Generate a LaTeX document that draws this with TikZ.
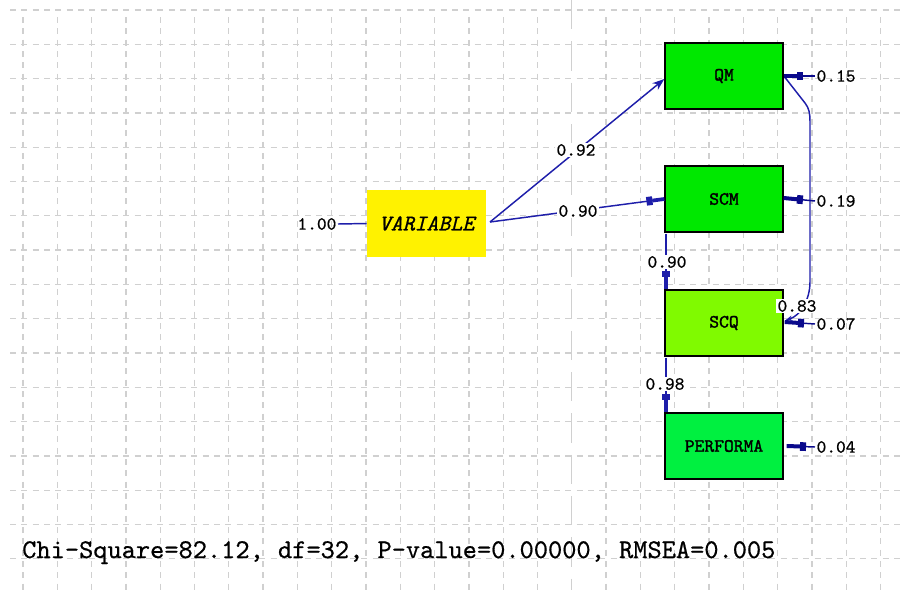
\documentclass[tikz,border=0pt]{standalone}
\usepackage{fontspec}
\usetikzlibrary{arrows.meta,calc}
\newfontfamily\numfont{lmmono10-regular}[Extension=.otf,FakeBold=0.6]
\newfontfamily\boxfont{lmmono10-regular}[Extension=.otf,FakeBold=1.6]
\newfontfamily\varfont{lmmono10-italic}[Extension=.otf,FakeBold=0.8]
\definecolor{gridc}{RGB}{208,208,208}
\definecolor{pathc}{RGB}{30,30,170}
\definecolor{errc}{RGB}{10,10,140}
\definecolor{boxgreen}{RGB}{0,232,0}
\definecolor{scqgreen}{RGB}{128,250,0}
\definecolor{perfgreen}{RGB}{0,240,64}
\begin{document}
\begin{tikzpicture}[x=0.75pt,y=-0.75pt,
  gridline/.style={draw=gridc,line width=1pt,dash pattern=on 4.5pt off 4pt},
  axisline/.style={draw=gridc,line width=1pt,dash pattern=on 22pt off 9pt},
  obs/.style={draw=black,line width=1pt,minimum width=88.5pt,minimum height=49.5pt,
    inner sep=0pt,font=\boxfont\fontsize{14}{16}\selectfont},
  latent/.style={fill=yellow,minimum width=89.25pt,minimum height=50.25pt,inner sep=0pt,
    font=\varfont\fontsize{17}{19}\selectfont},
  lab/.style={font=\numfont\fontsize{13.9}{16}\selectfont,inner sep=1pt,fill=white},
  errlab/.style={font=\numfont\fontsize{13.9}{16}\selectfont,inner sep=1pt,anchor=west},
  conn/.style={draw=pathc,line width=1.1pt},
  arr/.style={conn,-{Stealth[length=9pt,width=6.5pt]}},
  blobarr/.style={conn,-{Rectangle[length=4.5pt,width=6.5pt]Rectangle[length=9pt,width=2.8pt]}},
  errarr/.style={draw=errc,line width=1.1pt,
    -{Rectangle[length=4.5pt,width=6.5pt]Rectangle[length=10pt,width=3pt]}}
]
\useasboundingbox (0,0) rectangle (904,590);

% background grid
\foreach \k in {0,...,16}
  \draw[gridline] (10,{10+34.3*\k}) -- (904,{10+34.3*\k});
\foreach \k in {0,...,15,17,18,...,25}
  \draw[gridline] ({23+34.3*\k},17) -- ({23+34.3*\k},590);
\draw[axisline] ({23+34.3*16},0) -- ({23+34.3*16},590);

% variables
\node[obs,fill=boxgreen] (QM) at (724,76) {QM};
\node[obs,fill=boxgreen] (SCM) at (724,199) {SCM};
\node[obs,fill=scqgreen] (SCQ) at (724,323) {SCQ};
\node[obs,fill=perfgreen] (PERF) at (724,446) {PERFORMA};
\node[latent] (VAR) at (426.5,223.5) {VARIABLE};

% variance of the latent variable
\node[errlab,anchor=east] (v100) at (338,224) {1.00};
\draw[conn] (v100.east) -- (VAR.west);

% structural paths
\coordinate (vout) at (490,222);
\draw[arr] (vout) -- ($(QM.west)+(0,3)$);
\draw[blobarr] (vout) -- (SCM.west);
\draw[blobarr] ($(SCM.south west)+(1.5,1)$) -- ($(SCQ.north west)+(1.5,0)$);
\draw[blobarr] ($(SCQ.south west)+(1.5,1)$) -- ($(PERF.north west)+(1.5,0)$);

% covariance between QM and SCQ
\draw[conn,-{Stealth[length=5pt,width=4pt]}] ($(QM.east)+(1,1)$) -- (805,103)
  .. controls (809,108) and (810,113) .. (810,122) -- (810,282)
  .. controls (810,300) and (800,316) .. ($(SCQ.east)+(2,-3)$);

% path coefficients
\node[lab] (l92) at (576,150) {0.92};
\node[lab] (l90a) at (578,211) {0.90};
\node[lab] (l90b) at (667,262) {0.90};
\node[lab] (l98) at (665,384) {0.98};
\node[lab] (l83) at (797,306) {0.83};

% error variances
\node[errlab] (e1) at (815,76) {0.15};
\node[errlab] (e2) at (815,201) {0.19};
\node[errlab] (e3) at (815,324) {0.07};
\node[errlab] (e4) at (815,447) {0.04};
\draw[errarr] (e1.west) -- (QM.east);
\draw[errarr] (e2.west) -- ($(SCM.east)+(0,-1)$);
\draw[errarr] (e3.west) -- ($(SCQ.east)+(1,-1)$);
\draw[errarr] (e4.west) -- ($(PERF.east)+(3,0)$);

% fit statistics
\node[anchor=base west,inner sep=0pt,font=\numfont\fontsize{20.3}{23}\selectfont] (fit)
  at (22,558) {Chi-Square=82.12, df=32, P-value=0.00000, RMSEA=0.005};
\end{tikzpicture}
\end{document}
